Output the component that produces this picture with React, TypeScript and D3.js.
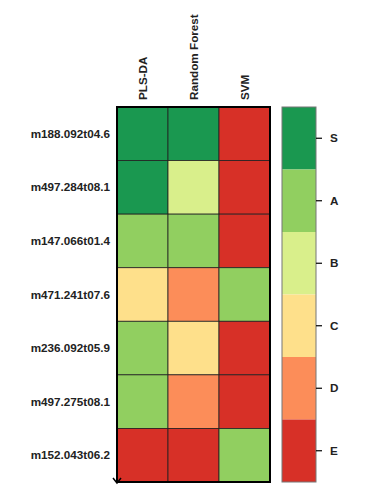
import React, { useRef, useEffect } from 'react';
import * as d3 from 'd3';

const rows = [
  'm188.092t04.6',
  'm497.284t08.1',
  'm147.066t01.4',
  'm471.241t07.6',
  'm236.092t05.9',
  'm497.275t08.1',
  'm152.043t06.2',
];
const methods = ['PLS-DA', 'Random Forest', 'SVM'];
const grades = ['S', 'A', 'B', 'C', 'D', 'E'];
const gradeColors = ['#1a9850', '#91cf60', '#d9ef8b', '#fee08b', '#fc8d59', '#d73027'];

// grade for each row, per method
const plsda = ['S', 'S', 'A', 'C', 'A', 'A', 'E'];
const rf = ['S', 'B', 'A', 'D', 'C', 'D', 'E'];
const svm = ['E', 'E', 'E', 'A', 'E', 'E', 'A'];

const App: React.FC = () => {
  const svgRef = useRef<SVGSVGElement>(null);

  useEffect(() => {
    if (!svgRef.current) return;
    const svg = d3.select(svgRef.current);
    svg.selectAll('*').remove();

    const font = 'Liberation Sans, Arial, sans-serif';
    const fs = 11.7;
    const left = 117, top = 107, right = 270, bottom = 482;

    const x = d3.scaleBand().domain(methods).range([left, right]);
    const y = d3.scaleBand().domain(rows).range([top, bottom]);
    const color = d3.scaleOrdinal<string, string>().domain(grades).range(gradeColors);

    const cells: { row: string; method: string; grade: string }[] = [];
    const series = [plsda, rf, svm];
    rows.forEach((r, i) => {
      methods.forEach((m, j) => cells.push({ row: r, method: m, grade: series[j][i] }));
    });

    const g = svg.append('g');
    g.selectAll('rect.cell')
      .data(cells)
      .enter()
      .append('rect')
      .attr('class', 'cell')
      .attr('x', (d) => x(d.method)!)
      .attr('y', (d) => y(d.row)!)
      .attr('width', x.bandwidth())
      .attr('height', y.bandwidth())
      .attr('fill', (d) => color(d.grade))
      .attr('stroke', '#222')
      .attr('stroke-width', 0.8);

    // outer frame
    g.append('rect')
      .attr('x', left)
      .attr('y', top)
      .attr('width', right - left)
      .attr('height', bottom - top)
      .attr('fill', 'none')
      .attr('stroke', '#000')
      .attr('stroke-width', 2);

    // left axis arrow
    g.append('path')
      .attr('d', `M${left - 4},${bottom - 4} L${left},${bottom + 1} L${left + 4},${bottom - 4}`)
      .attr('fill', 'none')
      .attr('stroke', '#000')
      .attr('stroke-width', 1.5);

    // row labels
    g.selectAll('text.row')
      .data(rows)
      .enter()
      .append('text')
      .attr('x', left - 7)
      .attr('y', (d) => y(d)! + y.bandwidth() / 2)
      .attr('dy', '0.35em')
      .attr('text-anchor', 'end')
      .attr('font-family', font)
      .attr('font-weight', 'bold')
      .attr('font-size', fs)
      .attr('fill', '#222')
      .text((d) => d);

    // column labels
    g.selectAll('text.col')
      .data(methods)
      .enter()
      .append('text')
      .attr('transform', (d) => `translate(${x(d)! + x.bandwidth() / 2},${top - 7}) rotate(-90)`)
      .attr('dy', '0.35em')
      .attr('text-anchor', 'start')
      .attr('font-family', font)
      .attr('font-weight', 'bold')
      .attr('font-size', fs)
      .attr('fill', '#222')
      .text((d) => d);

    // legend
    const lx = 282, lw = 34;
    const ly = d3.scaleBand().domain(grades).range([top, bottom]);
    const lg = svg.append('g');
    lg.selectAll('rect')
      .data(grades)
      .enter()
      .append('rect')
      .attr('x', lx)
      .attr('y', (d) => ly(d)!)
      .attr('width', lw)
      .attr('height', ly.bandwidth())
      .attr('fill', (d) => color(d));
    lg.append('rect')
      .attr('x', lx)
      .attr('y', top)
      .attr('width', lw)
      .attr('height', bottom - top)
      .attr('fill', 'none')
      .attr('stroke', '#777')
      .attr('stroke-width', 1);

    const axis = d3.axisRight(ly).tickSize(6).tickPadding(8);
    const ag = lg
      .append('g')
      .attr('transform', `translate(${lx + lw},0)`)
      .call(axis);
    ag.select('.domain').remove();
    ag.selectAll('line').attr('stroke', '#000').attr('stroke-width', 1.2);
    ag.selectAll('text')
      .attr('font-family', font)
      .attr('font-weight', 'bold')
      .attr('font-size', fs)
      .attr('fill', '#222');
  }, []);

  return <svg ref={svgRef} width={374} height={498} style={{ display: 'block', margin: '-8px' }} />;
};

export default App;
